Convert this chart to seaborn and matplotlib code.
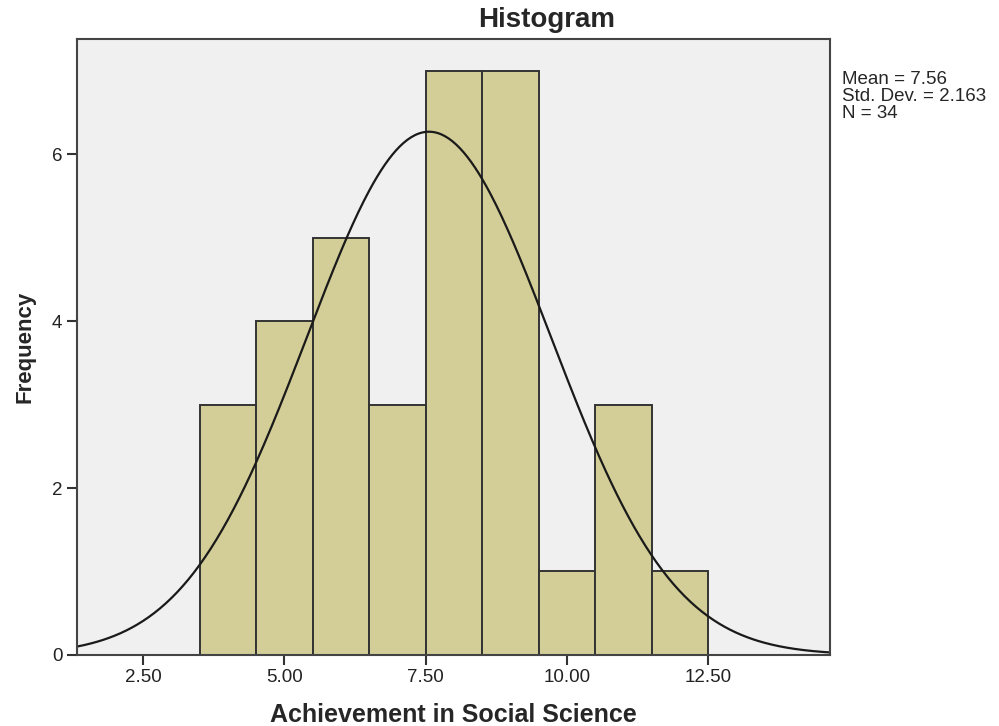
import seaborn as sns
import matplotlib.pyplot as plt
import pandas as pd
import numpy as np

# Bin centres and frequencies
bin_centers = [4, 5, 6, 7, 8, 9, 10, 11, 12]
counts = [3, 4, 5, 3, 7, 7, 1, 3, 1]
mean_val = 7.56
sd_val = 2.163
n_val = 34
x_ticks = [2.5, 5.0, 7.5, 10.0, 12.5]
y_ticks = [0, 2, 4, 6]

data = pd.DataFrame({"score": bin_centers, "freq": counts})

sns.set_style("white")
plt.rcParams["font.family"] = ["Liberation Sans", "DejaVu Sans"]

fig = plt.figure(figsize=(9.99, 7.26), dpi=100)
ax = fig.add_axes([0.077, 0.098, 0.754, 0.848])
ax.set_facecolor("#f0f0f0")

sns.histplot(data=data, x="score", weights="freq", binwidth=1.0, binrange=(3.5, 12.5),
             color="#d3ce97", edgecolor="#333333", linewidth=1.4, alpha=1, ax=ax)

# normal curve scaled to counts (N * bin width)
xs = np.linspace(1.33, 14.66, 400)
ys = n_val * 1.0 * np.exp(-0.5 * ((xs - mean_val) / sd_val) ** 2) / (sd_val * np.sqrt(2 * np.pi))
sns.lineplot(x=xs, y=ys, color="#1a1a1a", linewidth=1.6, ax=ax)

ax.set_xlim(1.33, 14.66)
ax.set_ylim(0, 7.38)
ax.set_xticks(x_ticks)
ax.set_xticklabels([f"{t:.2f}" for t in x_ticks])
ax.set_yticks(y_ticks)
ax.tick_params(axis="both", direction="out", length=7, width=1.5, labelsize=13.5,
               colors="#333333", labelcolor="#222222", bottom=True, left=True)
for side, sp in ax.spines.items():
    sp.set_color("#444444")
    sp.set_linewidth(1.5)

ax.set_xlabel("Achievement in Social Science", fontsize=18, fontweight="bold", labelpad=12)
ax.set_ylabel("Frequency", fontsize=16, fontweight="bold", labelpad=12)
fig.text(0.547, 0.973, "Histogram", fontsize=20, fontweight="bold", ha="center", va="center")
fig.text(0.843, 0.902, f"Mean = {mean_val}\nStd. Dev. = {sd_val}\nN = {n_val}",
         fontsize=13.5, va="top", ha="left", linespacing=1.0)

plt.savefig("out.png", dpi=100)
